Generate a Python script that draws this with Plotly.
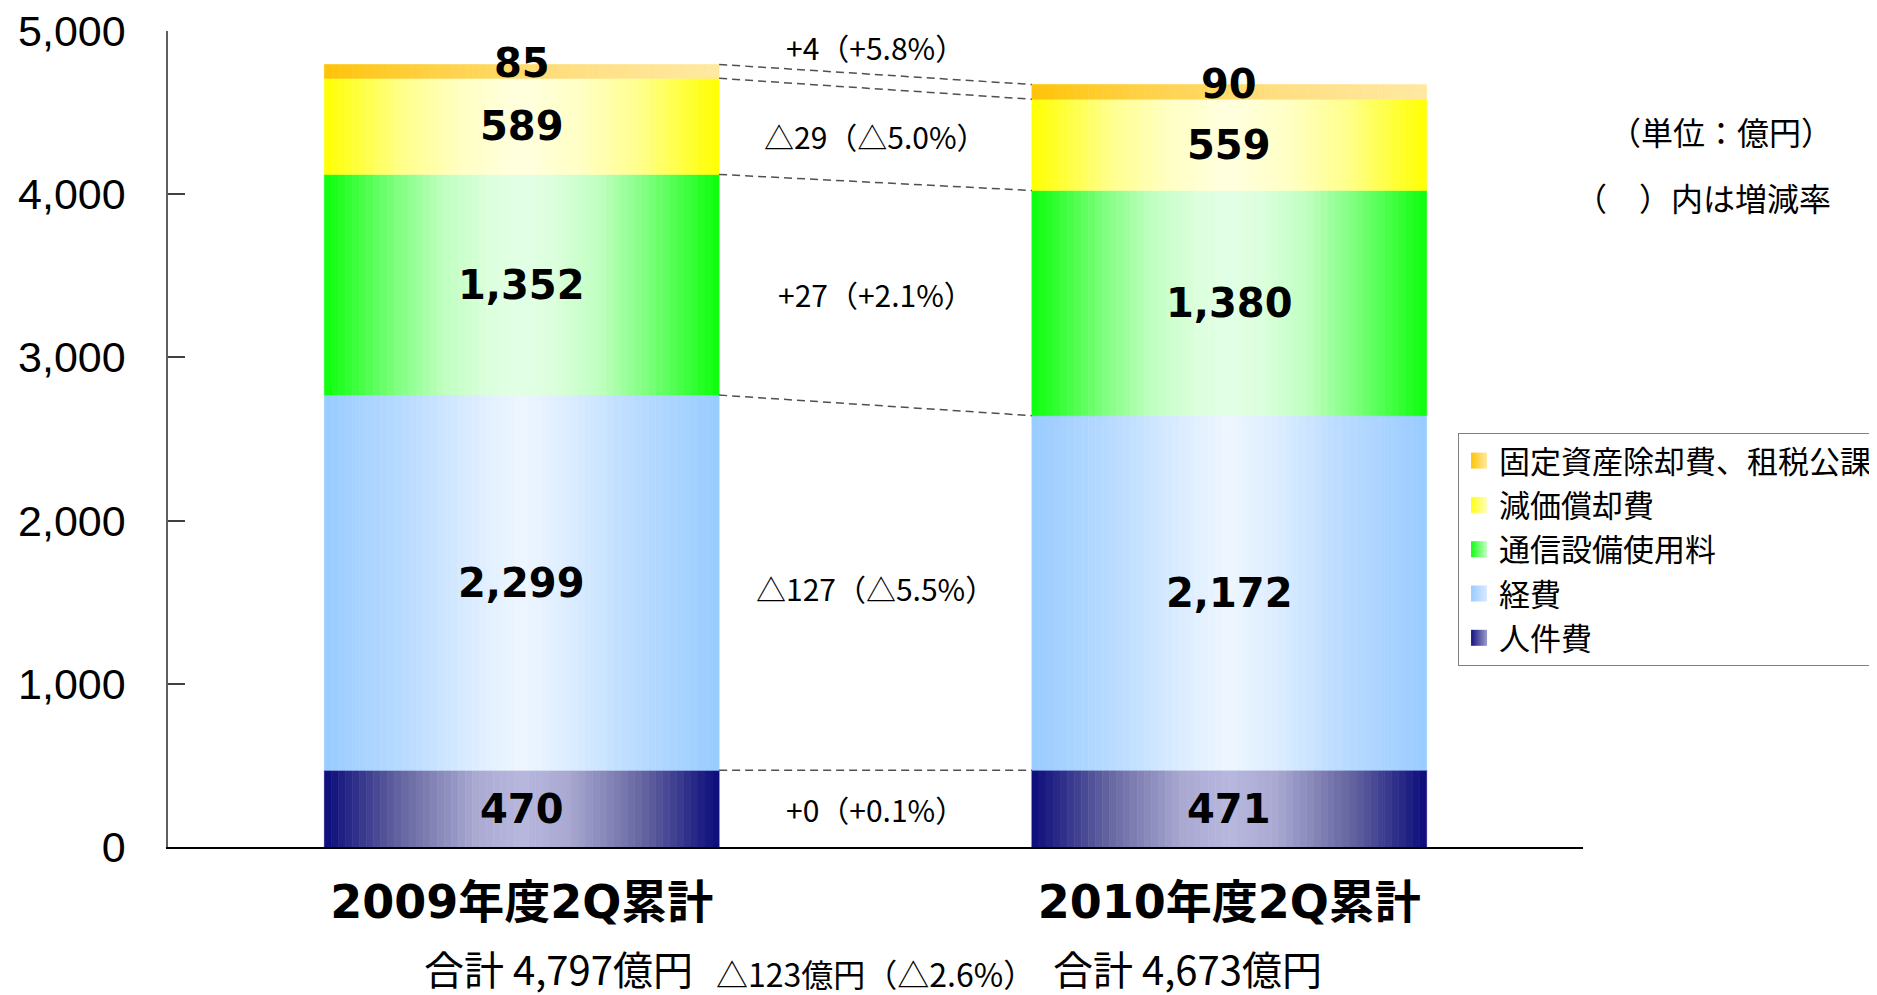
import plotly.graph_objects as go
import numpy as np

# ---------------- data ----------------
categories = ["2009年度2Q累計", "2010年度2Q累計"]
series_names = ["人件費", "経費", "通信設備使用料", "減価償却費", "固定資産除却費、租税公課"]
personnel = [470, 471]
expenses = [2299, 2172]
telecom = [1352, 1380]
depreciation = [589, 559]
fixed_asset = [85, 90]
totals = [4797, 4673]
change_labels = ["+0（+0.1%）", "△127（△5.5%）", "+27（+2.1%）", "△29（△5.0%）", "+4（+5.8%）"]
total_change_label = "△123億円（△2.6%）"
y_ticks = [0, 1000, 2000, 3000, 4000, 5000]

series_values = [personnel, expenses, telecom, depreciation, fixed_asset]

# ---------------- styles ----------------
def mirror(stops):
    out = list(stops)
    for t, c in reversed(stops[:-1]):
        out.append((1 - t, c))
    return out

gradients = [
    mirror([(0, "#0B0B7B"), (0.2, "#6868A2"), (0.38, "#A8A8D2"), (0.5, "#B8B8DE")]),
    mirror([(0, "#99CCFF"), (0.2, "#B8DAFF"), (0.38, "#DCEDFF"), (0.5, "#EEF6FF")]),
    mirror([(0, "#0AFF0A"), (0.18, "#7CFF7C"), (0.3, "#BFFFBF"), (0.42, "#DCFFDD"), (0.5, "#E2FFE6")]),
    mirror([(0, "#FFFF00"), (0.2, "#FFFF8C"), (0.35, "#FFFFC4"), (0.5, "#FFFFE0")]),
    [(0, "#FFC307"), (0.3, "#FFD24A"), (0.6, "#FFDE7E"), (1, "#FFE9A2")],
]
legend_colors = ["#141480", "#99CCFF", "#10FF10", "#FFFF10", "#FFC307"]
legend_grad = ["#9C9CCC", "#D8EAFF", "#C8FFC8", "#FFFFC0", "#FFE9A2"]


def hex2rgb(h):
    h = h.lstrip("#")
    return np.array([int(h[i:i + 2], 16) for i in (0, 2, 4)], dtype=float)


def interp(stops, t):
    for (t0, c0), (t1, c1) in zip(stops[:-1], stops[1:]):
        if t0 <= t <= t1:
            f = 0 if t1 == t0 else (t - t0) / (t1 - t0)
            c = hex2rgb(c0) * (1 - f) + hex2rgb(c1) * f
            return "rgb(%d,%d,%d)" % tuple(np.round(c))
    return stops[-1][1]


BAR_W = 0.558
N_STRIPS = 56
FONT_CJK = "Noto Sans CJK JP"

fig = go.Figure()

bases = [[0, 0]]
for vals in series_values:
    bases.append([b + v for b, v in zip(bases[-1], vals)])

n_series = len(series_values)
for k, (name, vals) in enumerate(zip(series_names, series_values)):
    base = bases[k]
    rank = n_series - k
    for j in range(N_STRIPS):
        t = (j + 0.5) / N_STRIPS
        col = interp(gradients[k], t)
        fig.add_trace(go.Bar(
            x=categories, y=vals, base=base,
            width=BAR_W / N_STRIPS,
            offset=-BAR_W / 2 + j * BAR_W / N_STRIPS,
            marker=dict(color=col, line=dict(width=0.6, color=col)),
            name=name, legendgroup=name, legendrank=rank,
            showlegend=False, hoverinfo="skip",
        ))
    # legend entry (square marker)
    fig.add_trace(go.Scatter(
        x=[None], y=[None], mode="markers", name=name, legendgroup=name, legendrank=rank,
        marker=dict(symbol="square", size=16, color=legend_colors[k],
                    gradient=dict(type="horizontal", color=legend_grad[k]),
                    line=dict(width=0)),
        showlegend=True, hoverinfo="skip",
    ))

annotations = []
# value labels
for k, vals in enumerate(series_values):
    for i, cat in enumerate(categories):
        annotations.append(dict(
            x=cat, y=bases[k][i] + vals[i] / 2, xref="x", yref="y",
            text=f"{vals[i]:,}", showarrow=False,
            yshift=8 if k == n_series - 1 else 0,
            font=dict(family="DejaVu Sans", size=40, color="black", weight="bold"),
        ))

# change labels between bars
for k, vals in enumerate(series_values):
    if k == n_series - 1:
        y = (bases[k + 1][0] + bases[k + 1][1]) / 2
        ys = 27
    else:
        y = ((bases[k][0] + vals[0] / 2) + (bases[k][1] + vals[1] / 2)) / 2
        ys = 0
    annotations.append(dict(
        x=0.5, y=y, xref="x", yref="y", text=change_labels[k], showarrow=False,
        yshift=ys, font=dict(family=FONT_CJK, size=30, color="black"),
    ))

# totals below the categories
total_xshift = [37, -42]
for i, cat in enumerate(categories):
    annotations.append(dict(
        x=cat, y=-0.148, xref="x", yref="paper", text=f"合計 {totals[i]:,}億円",
        showarrow=False, yanchor="middle", xanchor="center", xshift=total_xshift[i],
        font=dict(family=FONT_CJK, size=40, color="black"),
    ))
annotations.append(dict(
    x=0.5, y=-0.1545, xref="x", yref="paper", text=total_change_label,
    showarrow=False, yanchor="middle", xanchor="center",
    font=dict(family=FONT_CJK, size=32, color="black"),
))
# unit notes
annotations.append(dict(
    x=1.0975, y=0.8775, xref="paper", yref="paper", text="（単位：億円）",
    showarrow=False, xanchor="center", yanchor="middle",
    font=dict(family=FONT_CJK, size=32, color="black"),
))
annotations.append(dict(
    x=1.0848, y=0.7966, xref="paper", yref="paper", text="（　）内は増減率",
    showarrow=False, xanchor="center", yanchor="middle",
    font=dict(family=FONT_CJK, size=32, color="black"),
))

# dashed connector lines between bar segment tops
shapes = []
for k in range(1, len(bases)):
    shapes.append(dict(
        type="line", xref="x", yref="y",
        x0=0 + BAR_W / 2, x1=1 - BAR_W / 2,
        y0=bases[k][0], y1=bases[k][1],
        line=dict(color="#505050", width=1.5, dash="8px,5px"),
    ))

fig.update_layout(
    width=1877, height=995,
    barmode="overlay",
    plot_bgcolor="white", paper_bgcolor="white",
    margin=dict(l=160, r=302, t=23, b=156, autoexpand=False),
    font=dict(family=FONT_CJK, color="black"),
    annotations=annotations, shapes=shapes,
    legend=dict(
        x=0.9117, y=0.5074, xanchor="left", yanchor="top",
        traceorder="grouped", tracegroupgap=1, itemsizing="trace",
        bordercolor="#808080", borderwidth=1,
        bgcolor="white", font=dict(family=FONT_CJK, size=31, color="black"),
    ),
    showlegend=True,
)
fig.update_xaxes(
    range=[-0.5, 1.5], showline=True, linecolor="black", linewidth=1.5,
    ticks="", showgrid=False, ticklabelstandoff=14,
    tickfont=dict(family="DejaVu Sans, Noto Sans CJK JP", size=46, color="black", weight="bold"),
)
fig.update_yaxes(
    range=[0, 5000], tickvals=y_ticks, tickformat=",", showline=True,
    linecolor="#606060", linewidth=1.5, ticks="inside", ticklen=17,
    tickcolor="#404040", tickwidth=1.5, showgrid=False, zeroline=False,
    ticklabelstandoff=32, ticklabeloverflow="allow",
    tickfont=dict(family="Liberation Sans", size=43, color="black"),
)

fig.write_html("out.html")
